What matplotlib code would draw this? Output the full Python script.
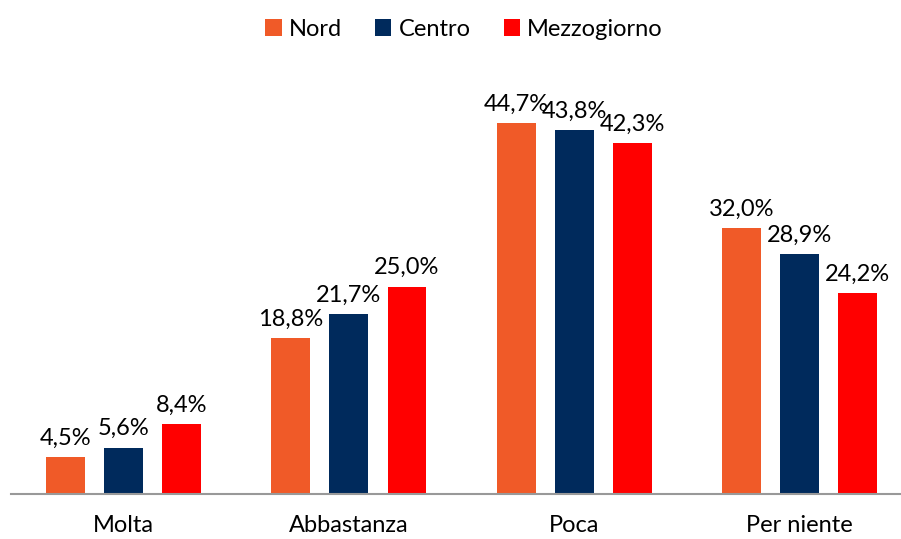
import matplotlib
matplotlib.use("Agg")
import matplotlib.pyplot as plt
import numpy as np

plt.rcParams['font.family'] = ['Lato', 'DejaVu Sans']

categories = ['Molta', 'Abbastanza', 'Poca', 'Per niente']
series = ['Nord', 'Centro', 'Mezzogiorno']
nord = [4.5, 18.8, 44.7, 32.0]
centro = [5.6, 21.7, 43.8, 28.9]
mezzogiorno = [8.4, 25.0, 42.3, 24.2]
colors = ['#F05A28', '#002A5C', '#FF0000']

fig = plt.figure(figsize=(9.01, 5.39), dpi=100)
ax = fig.add_axes([0.012, 1 - 494 / 539, 0.988, 415 / 539])

x = np.arange(len(categories))
width = 0.173
step = 0.258
for i, (name, vals) in enumerate(zip(series, [nord, centro, mezzogiorno])):
    pos = x + (i - 1) * step
    ax.bar(pos, vals, width=width, color=colors[i], label=name)
    for p, v in zip(pos, vals):
        ax.text(p, v + 1.0, f"{v:.1f}%".replace('.', ','), ha='center', va='bottom',
                fontsize=17, color='black')

ax.set_xlim(-0.5, 3.45)
ax.set_ylim(0, 50)
ax.set_xticks(x)
ax.set_xticklabels(categories, fontsize=17)
ax.tick_params(axis='x', length=0, pad=15)
ax.set_yticks([])
for s in ['top', 'right', 'left']:
    ax.spines[s].set_visible(False)
ax.spines['bottom'].set_color('#999999')
ax.spines['bottom'].set_linewidth(1.5)

fig.legend(loc='upper center', bbox_to_anchor=(0.515, 1.005), ncol=3, frameon=False,
           fontsize=17, handlelength=0.7, handleheight=0.7, handletextpad=0.3,
           columnspacing=1.4)

fig.savefig('out.png', dpi=100)
